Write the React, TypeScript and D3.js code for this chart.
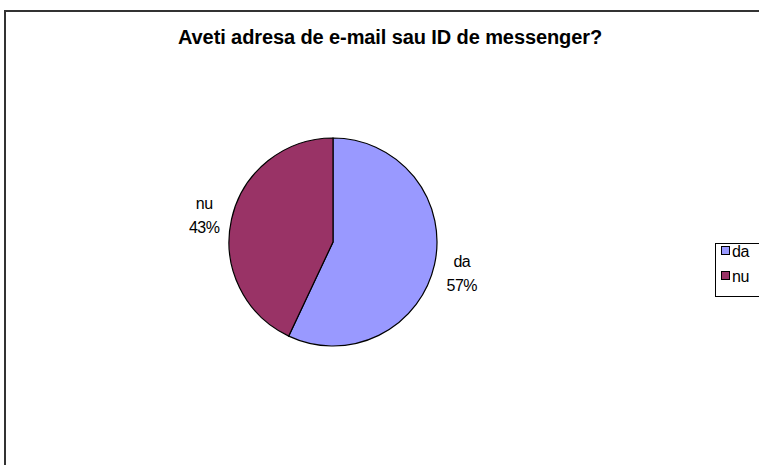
import React from "react";
import * as d3 from "d3";

const categories = ["da", "nu"];
const values = [57, 43];
const colors = ["#9999FF", "#993366"];
const title = "Aveti adresa de e-mail sau ID de messenger?";

export default function App() {
  const W = 759, H = 465;
  const cx = 333, cy = 242, r = 104;
  const pie = d3.pie<number>().sort(null).value((d) => d)(values);
  const arc = d3.arc<d3.PieArcDatum<number>>().innerRadius(0).outerRadius(r);
  const total = d3.sum(values);
  const labelR = r + 28;
  return (
    <svg width={W} height={H} style={{ position: "absolute", left: 0, top: 0 }}
      fontFamily="'Liberation Sans', Arial, sans-serif">
      <rect x={0} y={0} width={W} height={H} fill="#fff" />
      <path d={`M5,${H + 5} L5,11 L${W + 5},11`} fill="none" stroke="#333" strokeWidth={2} />
      <text x={390} y={44} textAnchor="middle" fontWeight="bold" fontSize={20} letterSpacing={-0.1}>{title}</text>
      <g transform={`translate(${cx},${cy})`}>
        {pie.map((p, i) => (
          <path key={i} d={arc(p) || ""} fill={colors[i]} stroke="#000" strokeWidth={1.2} />
        ))}
      </g>
      {pie.map((p, i) => {
        const a = (p.startAngle + p.endAngle) / 2;
        const x = cx + Math.sin(a) * labelR;
        const y = cy - Math.cos(a) * labelR;
        return (
          <g key={"l" + i}>
            <text x={x} y={y - 4} textAnchor="middle" fontSize={16} letterSpacing={-0.5}>{categories[i]}</text>
            <text x={x} y={y + 20} textAnchor="middle" fontSize={16} letterSpacing={-0.5}>{Math.round((values[i] / total) * 100)}%</text>
          </g>
        );
      })}
      <rect x={715.5} y={243.5} width={60} height={53} fill="#fff" stroke="#000" strokeWidth={1} />
      {categories.map((c, i) => (
        <g key={"g" + i}>
          <rect x={721.5} y={246.5 + i * 25} width={8} height={8} fill={colors[i]} stroke="#000" strokeWidth={1} />
          <text x={732} y={257 + i * 25} fontSize={16} letterSpacing={-0.5}>{c}</text>
        </g>
      ))}
    </svg>
  );
}
